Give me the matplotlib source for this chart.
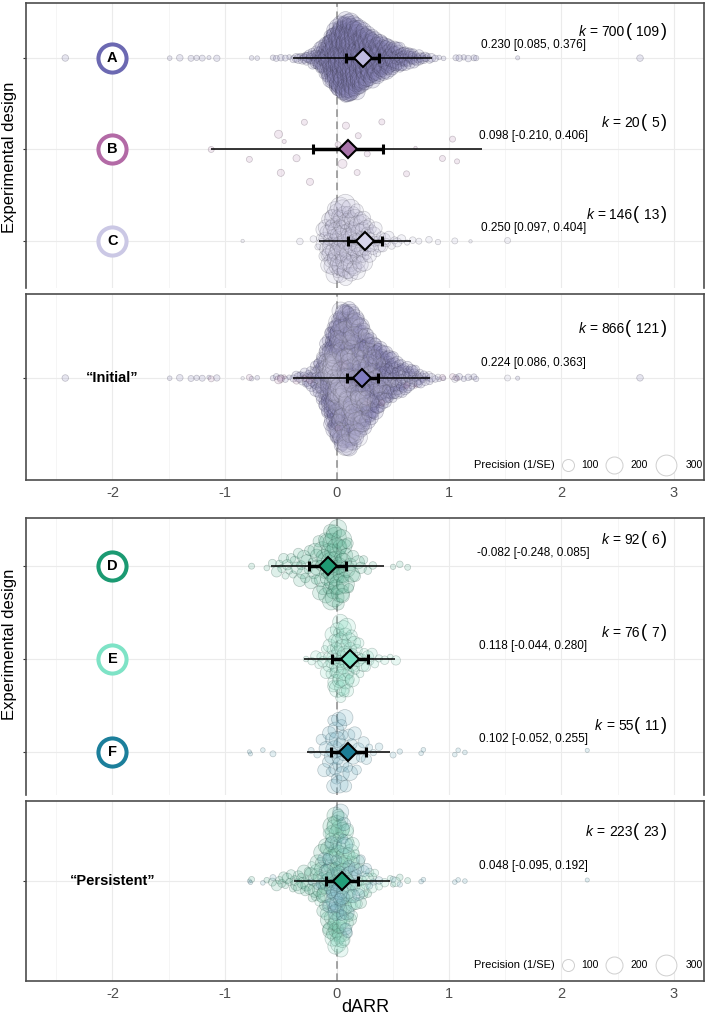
import numpy as np
import matplotlib
matplotlib.use("Agg")
import matplotlib.pyplot as plt
from matplotlib import transforms as mtransforms
from matplotlib.font_manager import FontProperties
from matplotlib.colors import to_rgb

plt.rcParams['font.family'] = ['Liberation Sans', 'DejaVu Sans']

# ------------------------------------------------------------------ data
BIN_W = 0.05
SIZE_CYCLE = [0.55, 1.0, 1.5, 0.8, 1.25]

# group A (k = 700)
A_start = -0.425
A_counts = [1, 2, 3, 6, 8, 14, 22, 35, 50, 62, 70, 66, 57, 48, 41, 36, 31, 28, 23, 19, 16, 12, 10, 7, 5, 3, 1]
A_prec = [30, 35, 40, 45, 50, 60, 70, 90, 110, 120, 130, 130, 130, 125, 120, 110, 100, 90, 80, 70, 60, 55, 50, 45, 40, 35, 30]
A_out = [-2.42, -1.49, -1.40, -1.30, -1.25, -1.20, -1.14, -1.07, -0.76, -0.71, -0.57, -0.54, -0.50, -0.46,
         0.91, 0.95, 1.06, 1.09, 1.13, 1.17, 1.22, 1.24, 1.61, 2.70]
A_out_prec = [30, 15, 30, 25, 20, 25, 12, 28, 15, 15, 20, 25, 30, 25,
              15, 15, 25, 30, 20, 30, 25, 20, 12, 30]

# group B (k = 20)
B_vals = [-1.12, -0.78, -0.52, -0.47, -0.50, -0.36, -0.29, -0.24, 0.01, 0.05,
          0.08, 0.18, 0.19, 0.27, 0.40, 0.62, 0.70, 0.94, 1.03, 1.07]
B_prec = [25, 25, 45, 12, 35, 35, 25, 35, 25, 55, 35, 25, 25, 25, 25, 25, 8, 25, 25, 18]

# group C (k = 146)
C_start = -0.125
C_counts = [5, 12, 16, 17, 17, 16, 14, 12, 8, 6, 4, 3, 2, 2, 1, 1, 1]
C_prec = [90, 120, 150, 170, 170, 160, 150, 130, 110, 90, 70, 60, 50, 45, 40, 35, 30]
C_out = [-0.84, -0.33, -0.21, -0.17, 0.73, 0.82, 0.90, 1.05, 1.19, 1.52]
C_out_prec = [8, 30, 30, 25, 25, 30, 20, 25, 8, 25]

# group D (k = 92)
D_start = -0.625
D_counts = [1, 1, 2, 3, 3, 3, 4, 4, 4, 6, 7, 9, 13, 11, 7, 4, 2, 2, 1]
D_prec = [40, 45, 50, 55, 60, 65, 70, 80, 90, 110, 130, 160, 200, 180, 150, 110, 80, 60, 50]
D_out = [-0.76, 0.32, 0.50, 0.56, 0.63]
D_out_prec = [25, 40, 20, 30, 25]

# group E (k = 76)
E_start = -0.275
E_counts = [1, 1, 2, 3, 5, 10, 14, 13, 9, 5, 4, 3, 2, 1, 1, 1, 1]
E_prec = [40, 40, 50, 60, 80, 110, 130, 130, 110, 90, 70, 60, 50, 45, 40, 40, 60]

# group F (k = 55)
F_start = -0.175
F_counts = [1, 2, 4, 8, 8, 6, 4, 3, 2, 2, 1, 1]
F_prec = [60, 80, 100, 140, 140, 120, 100, 80, 70, 60, 50, 40]
F_out = [-0.78, -0.77, -0.66, -0.57, -0.23, 0.50, 0.56, 0.75, 0.77, 1.05, 1.08, 1.14, 2.23]
F_out_prec = [12, 12, 15, 25, 25, 25, 20, 15, 15, 15, 15, 15, 12]

# model estimates: mean, CI low, CI high ; prediction interval ; k ; studies
EST = {
    'A': (0.230, 0.085, 0.376), 'B': (0.098, -0.210, 0.406), 'C': (0.250, 0.097, 0.404),
    'Initial': (0.224, 0.086, 0.363),
    'D': (-0.082, -0.248, 0.085), 'E': (0.118, -0.044, 0.280), 'F': (0.102, -0.052, 0.255),
    'Persistent': (0.048, -0.095, 0.192),
}
PI = {
    'A': (-0.39, 0.85), 'B': (-1.12, 1.29), 'C': (-0.16, 0.66), 'Initial': (-0.39, 0.83),
    'D': (-0.59, 0.42), 'E': (-0.29, 0.52), 'F': (-0.27, 0.47), 'Persistent': (-0.38, 0.47),
}
K = {'A': (700, 109), 'B': (20, 5), 'C': (146, 13), 'Initial': (866, 121),
     'D': (92, 6), 'E': (76, 7), 'F': (55, 11), 'Persistent': (223, 23)}

RING = {'A': '#6C69B2', 'B': '#B36AA6', 'C': '#CBC8E5', 'D': '#1B9A72', 'E': '#7EE3C6', 'F': '#1C7F9B'}
POINT = {'A': '#8985B8', 'B': '#B98DB4', 'C': '#C2BFDA', 'D': '#5DB596', 'E': '#8EDCC4', 'F': '#72AFC2'}
DIAMOND = {'A': '#BFBBE0', 'B': '#A874AA', 'C': '#D8D5EC', 'Initial': '#7F7BC0',
           'D': '#1F9A73', 'E': '#7EDFC4', 'F': '#1C7D96', 'Persistent': '#23A07A'}

LEGEND_PREC = [100, 200, 300]
X_TICKS = [-2, -1, 0, 1, 2, 3]


# ------------------------------------------------------------------ helpers
def expand_bins(start, counts, precs):
    xs, ps = [], []
    for i, (n, p) in enumerate(zip(counts, precs)):
        c = start + i * BIN_W
        for j in range(n):
            xs.append(c - BIN_W / 2 + (j + 0.5) * BIN_W / n)
            ps.append(p * SIZE_CYCLE[(i + j) % len(SIZE_CYCLE)])
    return xs, ps


def group_points(g):
    if g == 'A':
        x, p = expand_bins(A_start, A_counts, A_prec); x += A_out; p += A_out_prec
    elif g == 'B':
        x, p = list(B_vals), list(B_prec)
    elif g == 'C':
        x, p = expand_bins(C_start, C_counts, C_prec); x += C_out; p += C_out_prec
    elif g == 'D':
        x, p = expand_bins(D_start, D_counts, D_prec); x += D_out; p += D_out_prec
    elif g == 'E':
        x, p = expand_bins(E_start, E_counts, E_prec)
    else:
        x, p = expand_bins(F_start, F_counts, F_prec); x += F_out; p += F_out_prec
    return np.array(x), np.array(p)


def vdc(n):
    out = np.zeros(n)
    for i in range(n):
        k, f, v = i + 1, 0.5, 0.0
        while k > 0:
            v += f * (k % 2); k //= 2; f /= 2
        out[i] = v
    return out


def quasi_offsets(x, width):
    x = np.asarray(x, float); n = len(x)
    sd = x.std(ddof=1)
    q75, q25 = np.percentile(x, [75, 25])
    bw = 0.9 * min(sd, (q75 - q25) / 1.34) * n ** -0.2
    d = np.exp(-0.5 * ((x[:, None] - x[None, :]) / bw) ** 2).sum(1)
    d = d / d.max()
    ranks = np.argsort(np.argsort(x, kind='stable'), kind='stable')
    v = vdc(n)[ranks]
    return (v * 2 - 1) * d * width


W, H = 709, 1018
fig = plt.figure(figsize=(W / 100, H / 100), dpi=100)
fig.patch.set_facecolor('white')
renderer = fig.canvas.get_renderer()


def px_axes(left, top, right, bottom):
    return fig.add_axes([left / W, 1 - bottom / H, (right - left) / W, (bottom - top) / H])


def style_axes(ax, ylim, rows, bottom_spine, ticklabels):
    ax.set_xlim(-2.77, 3.27)
    ax.set_ylim(*ylim)
    ax.set_xticks(X_TICKS)
    ax.set_xticks(np.arange(-2.5, 3.0, 1.0), minor=True)
    ax.set_yticks(rows)
    ax.set_yticklabels([])
    ax.grid(which='major', color='#EBEBEB', lw=0.8)
    ax.grid(which='minor', axis='x', color='#F2F2F2', lw=0.5)
    ax.set_axisbelow(True)
    for s in ax.spines.values():
        s.set_color('#4D4D4D'); s.set_linewidth(1.2)
    ax.spines['bottom'].set_visible(bottom_spine)
    ax.tick_params(axis='x', which='both', length=0, pad=4, labelsize=10.5, labelcolor='#4D4D4D')
    ax.tick_params(axis='y', length=2.2, color='#333333', width=0.8)
    if ticklabels:
        ax.set_xticklabels([str(t) for t in X_TICKS])
    else:
        ax.set_xticklabels([])
    ax.axvline(0, color='#8C8C8C', lw=1.1, ls=(0, (5, 3)), zorder=1.5)


def draw_cloud(ax, pos, x, p, colors, width):
    off = quasi_offsets(x, width)
    fc = [(*to_rgb(c), 0.2) for c in colors]
    ec = [(*(np.array(to_rgb(c)) * 0.45), 0.3) for c in colors]
    ax.scatter(x, pos + off, s=0.75 * p, facecolors=fc, edgecolors=ec, linewidths=0.5, zorder=2)


def draw_estimate(ax, pos, key):
    m, lo, hi = EST[key]
    pl, ph = PI[key]
    ax.plot([pl, ph], [pos, pos], color='black', lw=1.1, zorder=3, solid_capstyle='butt')
    ax.errorbar([m], [pos], xerr=[[m - lo], [hi - m]], fmt='none', ecolor='black',
                elinewidth=2.5, capsize=3.3, capthick=2.2, zorder=4)
    ax.plot([m], [pos], marker='D', ms=9.2, mfc=DIAMOND[key], mec='black', mew=1.5, zorder=5)


def k_label(ax, pos, key, dy_px):
    k, n = K[key]
    pieces = [("k", 10, 'italic', 0), ("=", 10, 'normal', 4), (str(k), 10, 'normal', 4),
              ("(", 13, 'normal', 0.5), (str(n), 10, 'normal', 4.5), (")", 13, 'normal', 1.5)]
    widths = []
    for s, size, style, gap in pieces:
        fp = FontProperties(family=['Liberation Sans'], size=size, style=style)
        w, _, _ = renderer.get_text_width_height_descent(s, fp, ismath=False)
        widths.append(w)
    total = sum(widths) + sum(pc[3] for pc in pieces)
    x_px = -total
    for (s, size, style, gap), w in zip(pieces, widths):
        x_px += gap
        ax.annotate(s, xy=(2.937, pos), xytext=(x_px * 0.72, dy_px * 0.72), textcoords='offset points',
                    ha='left', va='baseline', fontsize=size, fontstyle=style, color='black', zorder=8)
        x_px += w


def est_label(ax, pos, key, dy_px):
    m, lo, hi = EST[key]
    ax.annotate(f"{m:.3f} [{lo:.3f}, {hi:.3f}]", xy=(1.75, pos), xytext=(0, dy_px * 0.72),
                textcoords='offset points', ha='center', va='center', fontsize=8.5, zorder=8)


def ring_label(ax, pos, g):
    ax.scatter([-2], [pos], s=410, facecolors='white', edgecolors=RING[g], linewidths=2.9, zorder=6)
    ax.text(-2, pos, g, ha='center', va='center', fontsize=10.5, fontweight='bold', zorder=7)


def precision_legend(ax, yfrac):
    trans = mtransforms.blended_transform_factory(ax.transData, ax.transAxes)
    ax.text(1.94, yfrac, "Precision (1/SE)", transform=trans, ha='right', va='center', fontsize=8)
    for pv, cx, lx in zip(LEGEND_PREC, [2.06, 2.47, 2.93], [2.25, 2.69, 3.18]):
        ax.scatter([cx], [yfrac], s=0.75 * pv, facecolors='white', edgecolors='#CFCFCF',
                   linewidths=0.7, transform=trans, zorder=8)
        ax.text(lx, yfrac, str(pv), transform=trans, ha='center', va='center', fontsize=7.5)


def subgroup_panel(ax, groups, ylim, width):
    rows = list(range(len(groups), 0, -1))
    style_axes(ax, ylim, rows, False, False)
    for g, pos in zip(groups, rows):
        x, p = group_points(g)
        draw_cloud(ax, pos, x, p, [POINT[g]] * len(x), width)
        draw_estimate(ax, pos, g)
        k_label(ax, pos, g, 22)
        est_label(ax, pos, g, 13)
        ring_label(ax, pos, g)


def pooled_panel(ax, groups, key, ylim, width, legend_y, label):
    style_axes(ax, ylim, [1], True, True)
    xs, ps, cs = [], [], []
    for g in groups:
        x, p = group_points(g)
        xs.append(x); ps.append(p); cs += [POINT[g]] * len(x)
    draw_cloud(ax, 1, np.concatenate(xs), np.concatenate(ps), cs, width)
    draw_estimate(ax, 1, key)
    k_label(ax, 1, key, 45)
    est_label(ax, 1, key, 15)
    ax.text(-2, 1, label, ha='center', va='center', fontsize=10.5, fontweight='bold', zorder=7)
    precision_legend(ax, legend_y)


ax1 = px_axes(26, 3, 704, 288)
subgroup_panel(ax1, ['A', 'B', 'C'], (0.486, 3.601), 0.42)
ax2 = px_axes(26, 294, 704, 480)
pooled_panel(ax2, ['A', 'B', 'C'], 'Initial', (0.342, 1.542), 0.46, 0.08, "\u201cInitial\u201d")
ax3 = px_axes(26, 518, 704, 795)
subgroup_panel(ax3, ['D', 'E', 'F'], (0.535, 3.519), 0.43)
ax4 = px_axes(26, 801, 704, 981)
pooled_panel(ax4, ['D', 'E', 'F'], 'Persistent', (0.355, 1.516), 0.46, 0.089, "\u201cPersistent\u201d")

fig.text(10 / W, 1 - 157 / H, "Experimental design", rotation=90, ha='center', va='center', fontsize=12)
fig.text(10 / W, 1 - 644 / H, "Experimental design", rotation=90, ha='center', va='center', fontsize=12)
fig.text(365 / W, 1 - 1008 / H, "dARR", ha='center', va='center', fontsize=13)

fig.savefig("out.png", dpi=100, facecolor='white')
